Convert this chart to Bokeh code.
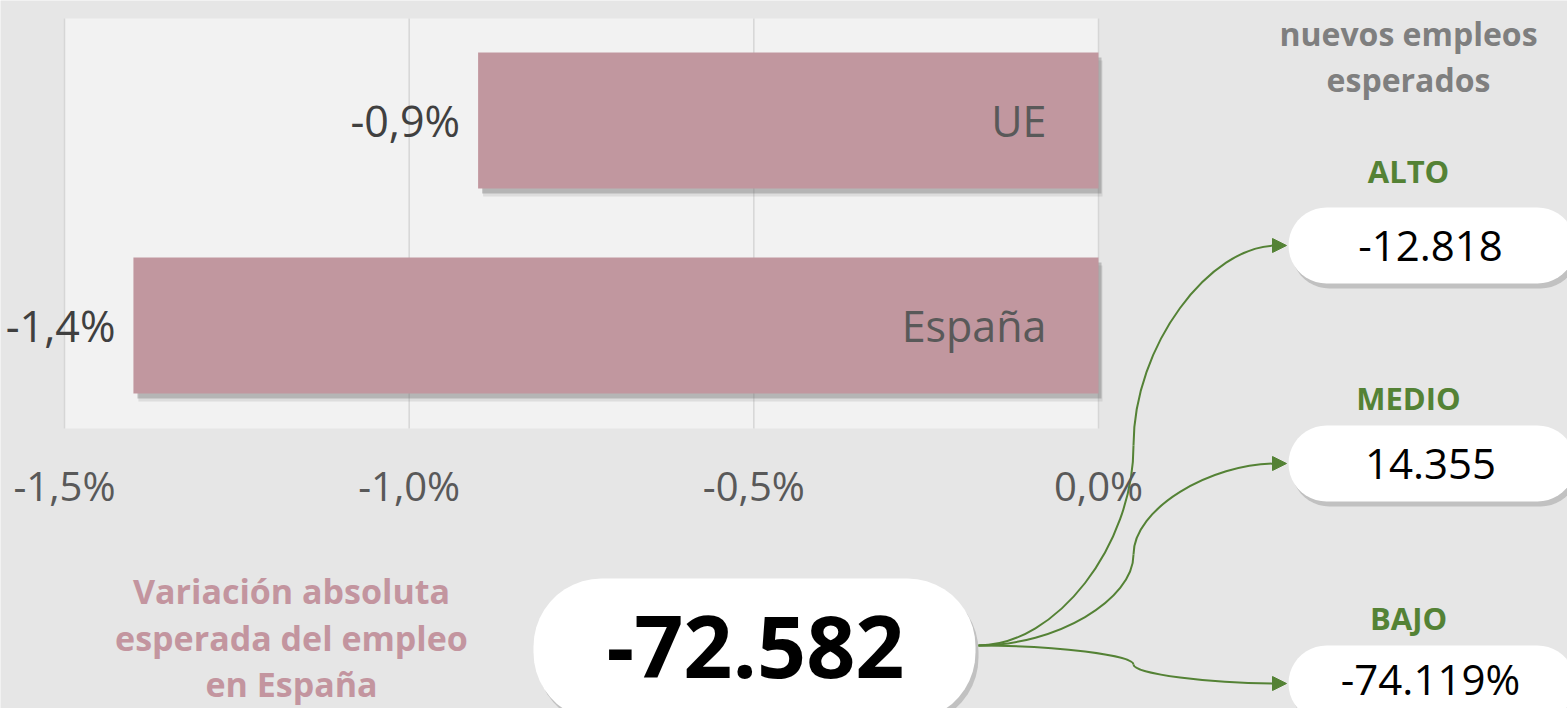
import numpy as np
from bokeh.plotting import figure
from bokeh.models import Range1d, FixedTicker, CustomJSTickFormatter, Arrow, NormalHead, ColumnDataSource
from bokeh.core.properties import value
from bokeh.transform import dodge
from bokeh.embed import file_html
from bokeh.resources import INLINE

# ---------------- data ----------------
categories = ["España", "UE"]
variation_pct = [-1.4, -0.9]
bar_labels = ["-1,4%", "-0,9%"]
tick_values = [-1.5, -1.0, -0.5, 0.0]
tick_labels = ["-1,5%", "-1,0%", "-0,5%", "0,0%"]
total_label = "-72.582"
scenario_names = ["ALTO", "MEDIO", "BAJO"]
scenario_values = ["-12.818", "14.355", "-74.119%"]
left_title = ["Variación absoluta", "esperada del empleo", "en España"]
right_title = ["nuevos empleos", "esperados"]

# ---------------- layout / style ----------------
W, H = 1567, 708
BG = "#e6e6e6"
PLOT_BG = "#f2f2f2"
BAR = "#c1979f"
PINK_TXT = "#c3959f"
GREEN = "#548235"
GREY_TXT = "#7f7f7f"
DARK = "#595959"
FONT = value("Open Sans")

PA_L, PA_R, PA_T, PA_B = 64, 1098, 18, 428
XMIN, XMAX = -1.5, 0.0
ppu = (PA_R - PA_L) / (XMAX - XMIN)
x_start = XMIN - PA_L / ppu
x_end = XMAX + (W - PA_R) / ppu
CAT_STEP = 205
FIRST_CENTER = 325
y_start = (FIRST_CENTER - H) / CAT_STEP
y_end = FIRST_CENTER / CAT_STEP
BAR_H = 136 / CAT_STEP

p = figure(width=W, height=H, x_range=Range1d(x_start, x_end), y_range=Range1d(y_start, y_end),
           output_backend="svg", toolbar_location=None, y_axis_location=None,
           min_border=0, background_fill_color=BG, border_fill_color=BG, outline_line_color=None)
p.title.visible = False
p.extra_x_ranges = {"px": Range1d(0, W)}
p.extra_y_ranges = {"px": Range1d(H, 0)}
p.grid.visible = False

ax = p.xaxis[0]
ax.fixed_location = (FIRST_CENTER - PA_B) / CAT_STEP
ax.ticker = FixedTicker(ticks=tick_values)
ax.formatter = CustomJSTickFormatter(args=dict(vals=tick_values, labels=tick_labels), code="""
for (let i = 0; i < vals.length; i++) { if (Math.abs(vals[i] - tick) < 1e-9) return labels[i]; }
return '';
""")
ax.axis_line_color = None
ax.major_tick_line_color = None
ax.minor_tick_line_color = None
ax.major_tick_out = 0
ax.major_tick_in = 0
ax.major_label_standoff = 29
ax.major_label_text_font = "Open Sans"
ax.major_label_text_font_size = "40px"
ax.major_label_text_color = DARK

# plot area
p.quad(left=XMIN, right=XMAX, top=PA_T, bottom=PA_B, y_range_name="px",
       fill_color=PLOT_BG, line_color=None)
p.segment(x0=tick_values, x1=tick_values, y0=[PA_T] * len(tick_values), y1=[PA_B] * len(tick_values),
          y_range_name="px", line_color="#d6d6d6", line_width=1.5)

src = ColumnDataSource(dict(y=list(range(len(categories))), val=variation_pct,
                            lab=bar_labels, cat=categories))
# shadows
p.hbar(y=dodge("y", -8 / CAT_STEP), left=dodge("val", 5 / ppu), right=4 / ppu, height=BAR_H,
       fill_color="#808080", fill_alpha=0.18, line_color=None, source=src)
p.hbar(y=dodge("y", -5 / CAT_STEP), left=dodge("val", 4 / ppu), right=3 / ppu, height=BAR_H,
       fill_color="#6a6a6a", fill_alpha=0.35, line_color=None, source=src)
p.hbar(y="y", left="val", right=0, height=BAR_H, fill_color=BAR, line_color=None, source=src)

p.text(x="val", y="y", text="lab", source=src, x_offset=-18, text_align="right",
       text_baseline="middle", text_font=FONT, text_font_size="43px", text_color="#404040")
p.text(x=0, y="y", text="cat", source=src, x_offset=-52, text_align="right",
       text_baseline="middle", text_font=FONT, text_font_size="43px", text_color=DARK)

# left title
p.text(x=[291] * 3, y=[590, 637, 683], text=left_title, x_range_name="px", y_range_name="px",
       text_align="center", text_baseline="middle", text_font=FONT, text_font_style="bold",
       text_font_size="34px", text_color=PINK_TXT)
# right title
p.text(x=[1408] * 2, y=[33, 79], text=right_title, x_range_name="px", y_range_name="px",
       text_align="center", text_baseline="middle", text_font=FONT, text_font_style="bold",
       text_font_size="32px", text_color=GREY_TXT)


def pill(x0, x1, y0, y1, r):
    t = np.linspace(0, np.pi / 2, 12)
    xs, ys = [], []
    xs += list(x1 - r + r * np.sin(t)); ys += list(y0 + r - r * np.cos(t))
    xs += list(x1 - r + r * np.cos(t)); ys += list(y1 - r + r * np.sin(t))
    xs += list(x0 + r - r * np.sin(t)); ys += list(y1 - r + r * np.cos(t))
    xs += list(x0 + r - r * np.cos(t)); ys += list(y0 + r - r * np.sin(t))
    return xs, ys


pills = [(533, 975, 578, 720, 68), (1288, 1575, 207, 283, 38),
         (1288, 1575, 425, 501, 38), (1288, 1575, 645, 721, 38)]
sx, sy, px_, py_ = [], [], [], []
for (a, b, c, d, r) in pills:
    xs, ys = pill(a, b, c, d, r)
    px_.append(xs); py_.append(ys)
    sx.append([v + 3 for v in xs]); sy.append([v + 5 for v in ys])
p.patches(sx, sy, x_range_name="px", y_range_name="px", fill_color="#7a7a7a", fill_alpha=0.35,
          line_color=None)
p.patches(px_, py_, x_range_name="px", y_range_name="px", fill_color="white", line_color=None)

p.text(x=[755], y=[646], text=[total_label], x_range_name="px", y_range_name="px",
       text_align="center", text_baseline="middle", text_font=FONT, text_font_style="bold",
       text_font_size="86px", text_color="black")

scen_y = [245, 463, 683]
p.text(x=[1408] * 3, y=[170, 397, 617], text=scenario_names, x_range_name="px", y_range_name="px",
       text_align="center", text_baseline="middle", text_font=FONT, text_font_style="bold",
       text_font_size="31px", text_color=GREEN)
p.text(x=[1430] * 3, y=[245, 463, 678], text=scenario_values, x_range_name="px", y_range_name="px",
       text_align="center", text_baseline="middle", text_font=FONT,
       text_font_size="42px", text_color="black")

# connectors
X0, Y0, XM, XE = 978, 645, 1133, 1286
for ye in scen_y:
    ym = (Y0 + ye) / 2
    p.bezier(x0=[X0], y0=[Y0], x1=[XM], y1=[ym], cx0=[(X0 + XM) / 2], cy0=[Y0],
             cx1=[XM], cy1=[ym + 0.5 * (Y0 - ym)], x_range_name="px", y_range_name="px",
             line_color=GREEN, line_width=2)
    p.bezier(x0=[XM], y0=[ym], x1=[XE - 10], y1=[ye], cx0=[XM], cy0=[ym - 0.5 * (ym - ye)],
             cx1=[(XM + XE) / 2], cy1=[ye], x_range_name="px", y_range_name="px",
             line_color=GREEN, line_width=2)
    p.add_layout(Arrow(end=NormalHead(size=14, fill_color=GREEN, line_color=GREEN, line_width=1),
                       x_start=XE - 12, y_start=ye, x_end=XE, y_end=ye,
                       x_range_name="px", y_range_name="px", line_color=GREEN, line_width=2))

open("out.html", "w").write(file_html(p, INLINE))
